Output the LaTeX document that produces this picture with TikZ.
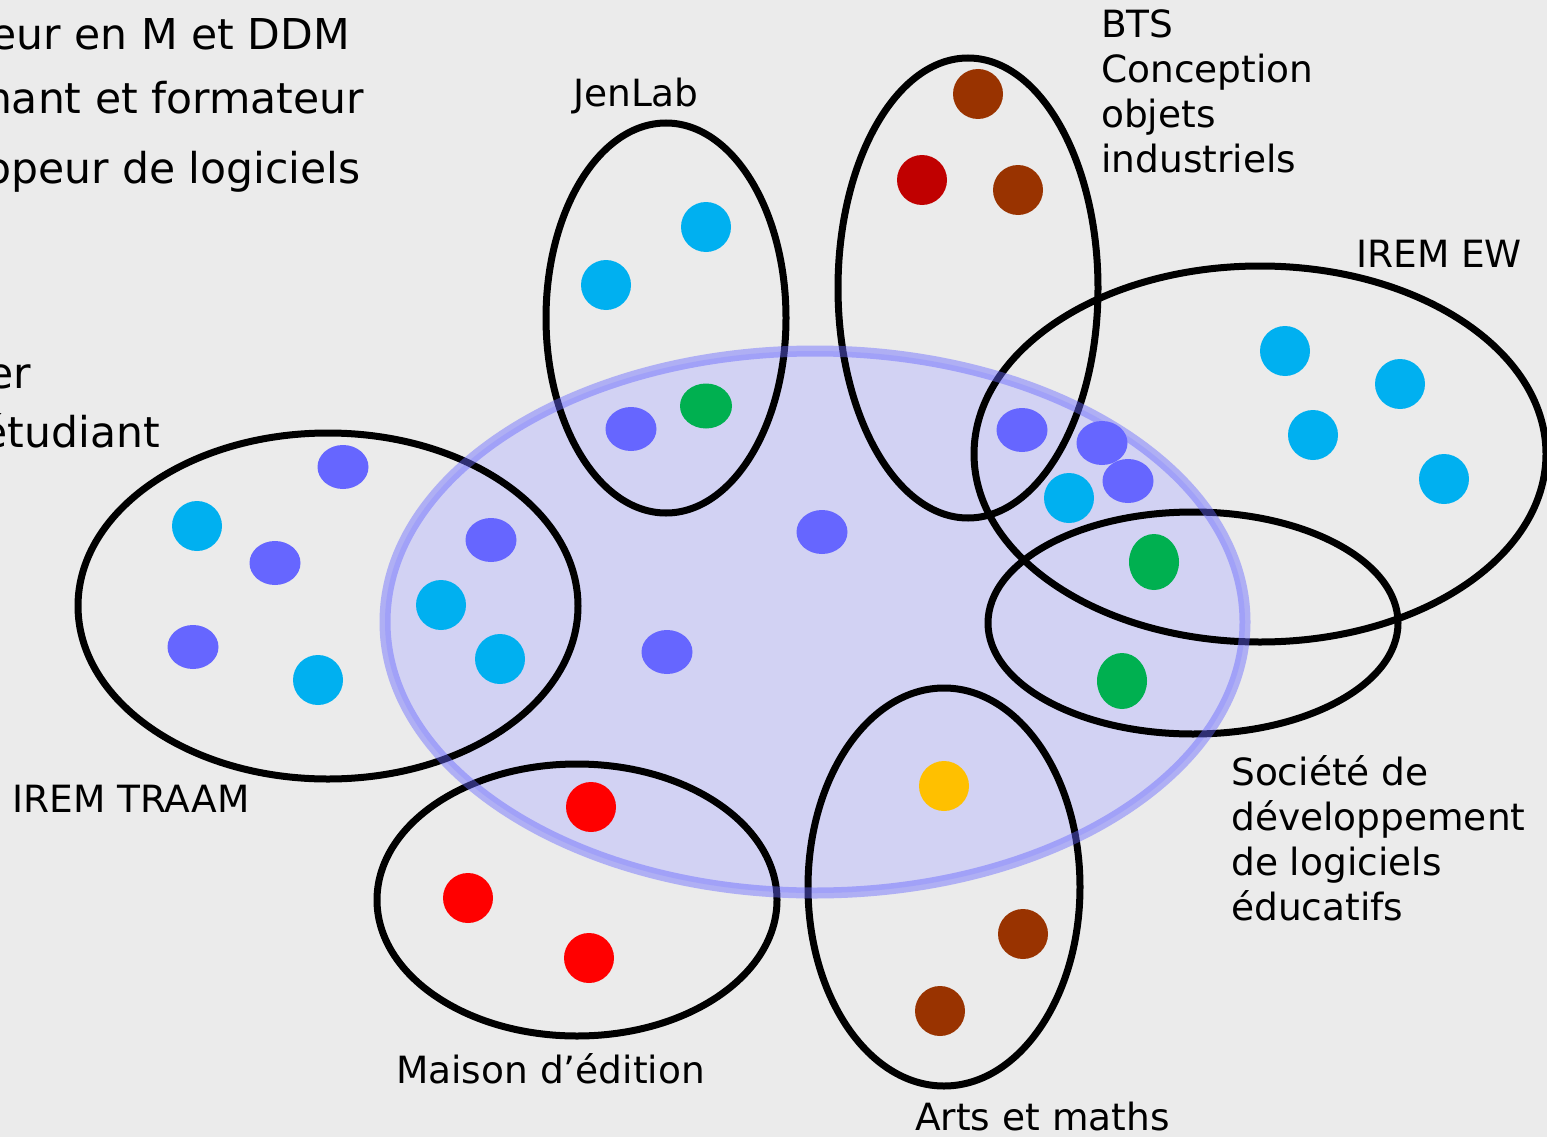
\documentclass[tikz,border=0pt]{standalone}
\usepackage{fontspec}
\setmainfont{DejaVu Sans}
\definecolor{bgc}{RGB}{235,235,235}
\definecolor{corefill}{RGB}{210,210,243}
\definecolor{violetdot}{RGB}{102,102,255}
\definecolor{cyandot}{RGB}{0,176,240}
\definecolor{greendot}{RGB}{0,176,80}
\definecolor{browndot}{RGB}{153,51,0}
\definecolor{darkreddot}{RGB}{192,0,0}
\definecolor{reddot}{RGB}{255,0,0}
\definecolor{yellowdot}{RGB}{255,192,0}
\tikzset{
  group/.style={draw=black, line width=7pt},
  corebody/.style={fill=corefill},
  corerim/.style={draw=violetdot, draw opacity=0.45, line width=11pt},
  lbl/.style={inner sep=0pt, anchor=base west, align=left, font=\fontsize{37.5}{45}\selectfont},
  side/.style={inner sep=0pt, anchor=base east, font=\fontsize{42.5}{60}\selectfont},
}
\newcommand{\violetpt}[2]{\fill[violetdot] (#1,#2) ellipse [x radius=25.5pt, y radius=22pt];}
\newcommand{\cyanpt}[2]{\fill[cyandot] (#1,#2) circle [radius=25pt];}
\newcommand{\roundpt}[3]{\fill[#1] (#2,#3) circle [radius=25pt];}
\begin{document}
\begin{tikzpicture}[x=1pt,y=-1pt]
% canvas
\fill[bgc] (0,0) rectangle (1547,1137);
\useasboundingbox (0,0) rectangle (1547,1137);

% central community: body under the group outlines
\fill[corebody] (815,622) ellipse [x radius=430pt, y radius=271pt];

% groups
\draw[group] (666,318) ellipse [x radius=120pt, y radius=195pt];   % JenLab
\draw[group] (968,288) ellipse [x radius=130pt, y radius=230pt];   % BTS
\draw[group] (1260,454) ellipse [x radius=286pt, y radius=188pt];  % IREM EW
\draw[group] (1193,623) ellipse [x radius=205pt, y radius=111pt];  % Societe
\draw[group] (328,606) ellipse [x radius=250pt, y radius=173pt];   % IREM TRAAM
\draw[group] (577,900) ellipse [x radius=200pt, y radius=136pt];   % Maison d'edition
\draw[group] (944,887) ellipse [x radius=136pt, y radius=199pt];   % Arts et maths

% central community: translucent rim over the outlines
\draw[corerim] (815,622) ellipse [x radius=430pt, y radius=271pt];

% members
\violetpt{343}{467} \violetpt{275}{563} \violetpt{193}{647} \violetpt{491}{540}
\violetpt{631}{429} \violetpt{822}{532} \violetpt{667}{652}
\violetpt{1022}{430} \violetpt{1102}{443} \violetpt{1128}{481}
\cyanpt{197}{526} \cyanpt{318}{680} \cyanpt{441}{605} \cyanpt{500}{659}
\cyanpt{606}{285} \cyanpt{706}{227} \cyanpt{1069}{498}
\cyanpt{1285}{351} \cyanpt{1400}{384} \cyanpt{1313}{435} \cyanpt{1444}{479}
\fill[greendot] (706,406) ellipse [x radius=26pt, y radius=22.5pt];
\fill[greendot] (1154,562) ellipse [x radius=25pt, y radius=28pt];
\fill[greendot] (1122,681) ellipse [x radius=25pt, y radius=28pt];
\roundpt{browndot}{978}{94} \roundpt{browndot}{1018}{190}
\roundpt{browndot}{1023}{934} \roundpt{browndot}{940}{1011}
\roundpt{darkreddot}{922}{180}
\roundpt{reddot}{591}{807} \roundpt{reddot}{468}{898} \roundpt{reddot}{589}{958}
\roundpt{yellowdot}{944}{786}

% labels (multi-line ones are placed by their last baseline)
\node[lbl] (jenlab) at (573,107) {JenLab};
\node[lbl] (bts) at (1101,172) {BTS\\Conception\\objets\\industriels};
\node[lbl] (iremew) at (1356,267) {IREM EW};
\node[lbl] (societe) at (1231,920) {Société de\\développement\\de logiciels\\éducatifs};
\node[lbl] (traam) at (12,812) {IREM TRAAM};
\node[lbl] (maison) at (396,1083) {Maison d’édition};
\node[lbl] (arts) at (915,1130) {Arts et maths};

% legend lines at the left edge
\node[side] (leg1) at (350,50) {eur en M et DDM};
\node[side] (leg2) at (364,114) {hant et formateur};
\node[side] (leg3) at (361,183) {opeur de logiciels};
\node[side] (leg4) at (31,388) {er};
\node[side] (leg5) at (160,447) {étudiant};
\end{tikzpicture}
\end{document}
